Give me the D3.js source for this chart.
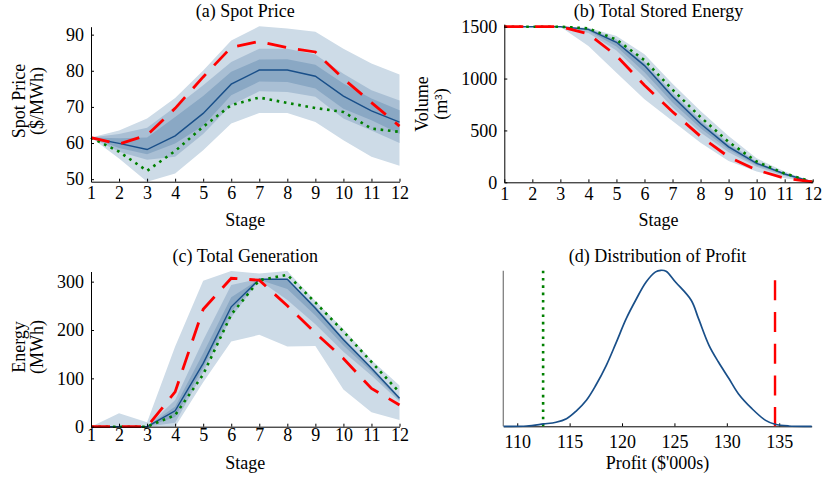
<!DOCTYPE html>
<html>
<head>
<meta charset="utf-8">
<script src="https://cdn.jsdelivr.net/npm/d3@7"></script>
<style>
  body { margin: 0; background: #fff; }
  svg text { font-family: "Liberation Serif", "Times New Roman", serif; fill: #000; }
</style>
</head>
<body>
<svg id="chart" width="823" height="479"></svg>
<script>
const stages = [1, 2, 3, 4, 5, 6, 7, 8, 9, 10, 11, 12];

// (a) spot price
const priceMedian = [61.4, 59.9, 58.2, 62.0, 68.2, 76.3, 80.2, 80.2, 78.5, 73.0, 68.9, 65.8];
const priceHigh   = [61.5, 59.7, 62.2, 69.6, 78.3, 86.5, 88.1, 86.4, 85.2, 77.8, 71.2, 64.7];
const priceLow    = [61.5, 57.6, 52.3, 57.8, 64.5, 70.5, 72.6, 71.1, 69.7, 68.6, 64.0, 63.1];
const priceOuterHi = [61.5, 63.5, 66.8, 72.5, 80.1, 88.4, 92.3, 91.7, 90.8, 86.1, 82.0, 79.0];
const priceOuterLo = [61.5, 55.7, 49.3, 51.6, 58.0, 65.4, 68.3, 68.3, 65.8, 60.8, 56.2, 53.7];
const priceMidHi   = [61.5, 62.5, 64.2, 70.0, 76.0, 82.4, 86.1, 86.1, 84.5, 79.2, 74.6, 71.8];
const priceMidLo   = [61.5, 57.6, 55.4, 56.2, 62.5, 70.5, 74.3, 74.1, 72.8, 66.8, 63.5, 60.0];
const priceInnerHi = [61.5, 61.3, 61.5, 67.2, 73.0, 79.7, 83.1, 83.2, 81.7, 76.5, 72.3, 69.1];
const priceInnerLo = [61.5, 58.6, 56.9, 59.9, 64.8, 73.2, 77.0, 76.9, 75.1, 69.5, 66.3, 62.6];
const priceTicks = [50, 60, 70, 80, 90];

// (b) total stored energy
const volMedian = [1500, 1500, 1500, 1474, 1350, 1125, 828, 565, 342, 183, 80, 3];
const volHigh   = [1500, 1500, 1500, 1430, 1220, 935, 680, 443, 245, 119, 39, 3];
const volLow    = [1500, 1500, 1500, 1484, 1375, 1177, 893, 628, 390, 200, 85, 3];
const volOuterHi = [1500, 1500, 1500, 1490, 1410, 1235, 950, 687, 446, 231, 103, 5];
const volOuterLo = [1500, 1500, 1500, 1314, 1056, 800, 590, 381, 205, 103, 39, 0];
const volMidHi   = [1500, 1500, 1500, 1485, 1380, 1165, 865, 605, 380, 200, 90, 3];
const volMidLo   = [1500, 1500, 1500, 1440, 1270, 1010, 720, 480, 290, 150, 60, 1];
const volInnerHi = [1500, 1500, 1500, 1480, 1362, 1142, 845, 585, 360, 190, 85, 3];
const volInnerLo = [1500, 1500, 1500, 1460, 1310, 1060, 770, 520, 315, 165, 70, 2];
const volTicks = [0, 500, 1000, 1500];

// (c) total generation
const genMedian = [0, 0, 0, 33, 131, 248, 305, 305, 245, 180, 121, 59];
const genHigh   = [0, 0, 0, 72, 243, 307, 303, 250, 194, 141, 79, 45];
const genLow    = [0, 0, 0, 24, 108, 232, 303, 314, 257, 197, 134, 71];
const genOuterHi = [0, 28, 9, 166, 302, 322, 317, 322, 260, 202, 138, 85];
const genOuterLo = [0, 0, 0, 0, 92, 176, 190, 166, 167, 77, 30, 14];
const genMidHi   = [0, 0, 0, 55, 179, 293, 306, 306, 250, 184, 124, 62];
const genMidLo   = [0, 0, 0, 8, 112, 226, 303, 262, 212, 155, 106, 52];
const genInnerHi = [0, 0, 0, 42, 152, 268, 305, 305, 248, 182, 122, 60];
const genInnerLo = [0, 0, 0, 20, 122, 238, 304, 285, 230, 168, 114, 55];
const genTicks = [0, 100, 200, 300];

// (d) distribution of profit
const profitX = [108.7, 110.9, 112.5, 113.7, 114.7, 115.6, 116.6, 117.5, 118.5, 119.4, 120.4, 121.3, 122.3,
  123.2, 123.7, 124.2, 125.1, 126.6, 127.3, 128.3, 129.2, 130.2, 131.1, 132.4, 133.7, 134.6, 135.9, 138.1];
const profitDensity = [0, 0.002, 0.015, 0.026, 0.049, 0.096, 0.167, 0.263, 0.391, 0.53, 0.69, 0.808, 0.925,
  0.99, 1.0, 0.994, 0.925, 0.808, 0.69, 0.519, 0.412, 0.306, 0.209, 0.113, 0.038, 0.013, 0.002, 0];
const profitLowCase = 112.47;
const profitHighCase = 134.6;
const profitTicks = [110, 115, 120, 125, 130, 135];

const bandOuter = "#cddbe7", bandMid = "#a9bfd4", bandInner = "#8aa8c4";
const medianColor = "#194f89", highColor = "#ff0000", lowColor = "#008000";

const svg = d3.select("#chart");

function stagePanel(p) {
  const x = d3.scaleLinear().domain([1, 12]).range(p.xr);
  const y = d3.scaleLinear().domain(p.yd).range(p.yr);
  const g = svg.append("g");

  const band = (lo, hi, color) => {
    g.append("path")
      .attr("d", d3.area().x((d, i) => x(d)).y0((d, i) => y(lo[i])).y1((d, i) => y(hi[i]))(stages))
      .attr("fill", color);
  };
  band(p.outer[0], p.outer[1], bandOuter);
  band(p.mid[0], p.mid[1], bandMid);
  band(p.inner[0], p.inner[1], bandInner);

  const line = d3.line().x((d) => x(d[0])).y((d) => y(d[1]));
  const series = (vals, color, width, dash) => {
    g.append("path")
      .attr("d", line(stages.map((s, i) => [s, vals[i]])))
      .attr("fill", "none")
      .attr("stroke", color)
      .attr("stroke-width", width)
      .attr("stroke-dasharray", dash);
  };
  series(p.median, medianColor, 1.4, null);
  series(p.low, lowColor, 2.6, "2.6,4.7");
  series(p.high, highColor, 2.8, "19,12");

  const ya = g.append("g")
    .attr("transform", `translate(${p.xr[0]},0)`)
    .call(d3.axisLeft(y).tickValues(p.ticks).tickFormat(d3.format("d"))
      .tickSize(-3).tickSizeOuter(0).tickPadding(7));
  const xa = g.append("g")
    .attr("transform", `translate(0,${p.yr[0]})`)
    .call(d3.axisBottom(x).tickValues(stages).tickFormat(d3.format("d"))
      .tickSize(-3).tickSizeOuter(0).tickPadding(p.xpad));
  [ya, xa].forEach((a) => {
    a.selectAll("text").style("font-size", "18px");
    a.select(".domain").attr("stroke", "#000");
  });

  const cx = (p.xr[0] + p.xr[1]) / 2;
  g.append("text").attr("x", cx).attr("y", p.titleY).attr("text-anchor", "middle")
    .style("font-size", "18px").text(p.title);
  g.append("text").attr("x", cx).attr("y", p.stageY).attr("text-anchor", "middle")
    .style("font-size", "18px").text("Stage");
  p.ylabel.forEach((t, i) => {
    g.append("text")
      .attr("transform", `translate(${p.ylabelX[i]},${p.ylabelY}) rotate(-90)`)
      .attr("text-anchor", "middle").attr("dy", "0.35em")
      .style("font-size", "18px").text(t);
  });
}

stagePanel({
  title: "(a) Spot Price", titleY: 17, stageY: 226,
  xr: [91, 399.5], yd: [49.3, 92.2], yr: [181.7, 26.7], ticks: priceTicks, xpad: 5,
  outer: [priceOuterLo, priceOuterHi], mid: [priceMidLo, priceMidHi], inner: [priceInnerLo, priceInnerHi],
  median: priceMedian, high: priceHigh, low: priceLow,
  ylabel: ["Spot Price", "($/MWh)"], ylabelX: [19, 37], ylabelY: 101
});

stagePanel({
  title: "(b) Total Stored Energy", titleY: 17, stageY: 226,
  xr: [504.3, 812.7], yd: [0, 1525], yr: [182.3, 24.1], ticks: volTicks, xpad: 5,
  outer: [volOuterLo, volOuterHi], mid: [volMidLo, volMidHi], inner: [volInnerLo, volInnerHi],
  median: volMedian, high: volHigh, low: volLow,
  ylabel: ["Volume", "(m³)"], ylabelX: [422, 441], ylabelY: 104
});

stagePanel({
  title: "(c) Total Generation", titleY: 262, stageY: 469,
  xr: [91, 399.5], yd: [0, 321], yr: [426.7, 271.5], ticks: genTicks, xpad: 2,
  outer: [genOuterLo, genOuterHi], mid: [genMidLo, genMidHi], inner: [genInnerLo, genInnerHi],
  median: genMedian, high: genHigh, low: genLow,
  ylabel: ["Energy", "(MWh)"], ylabelX: [19, 37], ylabelY: 347
});

// (d) density panel
(function () {
  const x = d3.scaleLinear().domain([108.67, 138.1]).range([503.3, 811.7]);
  const y = d3.scaleLinear().domain([0, 1]).range([426.3, 270.3]);
  const g = svg.append("g");

  g.append("line").attr("x1", x.range()[0]).attr("x2", x.range()[0])
    .attr("y1", 270.7).attr("y2", y(0))
    .attr("stroke", "#808080").attr("stroke-width", 1.3);

  const xa = g.append("g")
    .attr("transform", `translate(0,${y(0)})`)
    .call(d3.axisBottom(x).tickValues(profitTicks).tickSize(-3).tickSizeOuter(0).tickPadding(9));
  xa.selectAll("text").style("font-size", "18px");

  g.append("line").attr("x1", x(profitLowCase)).attr("x2", x(profitLowCase))
    .attr("y1", 270.7).attr("y2", y(0))
    .attr("stroke", lowColor).attr("stroke-width", 2.6).attr("stroke-dasharray", "2.6,4.7");
  g.append("line").attr("x1", x(profitHighCase)).attr("x2", x(profitHighCase))
    .attr("y1", 280.3).attr("y2", y(0))
    .attr("stroke", highColor).attr("stroke-width", 2.4).attr("stroke-dasharray", "20,11.7");

  g.append("path")
    .attr("d", d3.line().curve(d3.curveCatmullRom).x((d) => x(d[0])).y((d) => y(d[1]))(
      profitX.map((v, i) => [v, profitDensity[i]])))
    .attr("fill", "none").attr("stroke", medianColor).attr("stroke-width", 1.7);

  const cx = (x.range()[0] + x.range()[1]) / 2;
  g.append("text").attr("x", cx).attr("y", 262).attr("text-anchor", "middle")
    .style("font-size", "18px").text("(d) Distribution of Profit");
  g.append("text").attr("x", cx).attr("y", 469).attr("text-anchor", "middle")
    .style("font-size", "18px").text("Profit ($'000s)");
})();
</script>
</body>
</html>
